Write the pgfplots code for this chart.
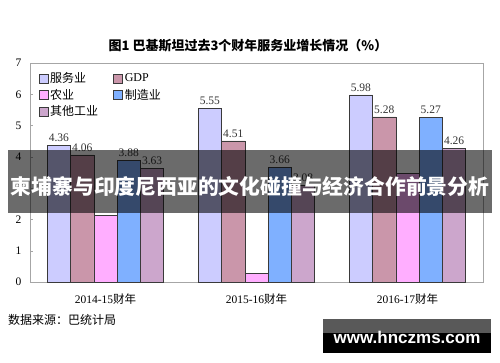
\documentclass[border=0pt]{standalone}
\usepackage{fontspec}
\setmainfont{Liberation Serif}
\newfontfamily\cjk{Noto Sans CJK SC}
\newfontfamily\wsans{Liberation Sans}
\usepackage{pgfplots}
\pgfplotsset{compat=1.18}
\definecolor{cServ}{HTML}{CCCCFF}
\definecolor{cGDP}{HTML}{CA96AA}
\definecolor{cAgr}{HTML}{FFAEFF}
\definecolor{cMan}{HTML}{7FB0FF}
\definecolor{cOth}{HTML}{CCA6CC}
\definecolor{cEdge}{HTML}{3A3A3A}
\begin{document}
\begin{tikzpicture}
\begin{axis}[
  at={(30pt,80pt)}, anchor=south west,
  width=453pt, height=219pt, scale only axis,
  xmin=-0.5, xmax=2.5, ymin=0, ymax=7,
  ytick={0,1,2,3,4,5,6,7},
  xtick={0,1,2},
  xticklabels={2014-15{\cjk 财年},2015-16{\cjk 财年},2016-17{\cjk 财年}},
  major x tick style={draw=none},
  extra x ticks={0.5,1.5}, extra x tick labels={},
  extra x tick style={major tick length=4pt, tick style={draw=gray!40}},
  xtick pos=bottom, ytick pos=left, tick align=inside,
  major tick length=3pt,
  tick style={draw=gray!70},
  axis line style={draw=gray!70},
  tick label style={font=\fontsize{11.5}{11.5}\selectfont},
  xticklabel style={yshift=-5pt},
  yticklabel style={xshift=-5pt},
  /pgf/number format/assume math mode=true,
  ybar=0pt, bar width=23.3pt,
  every axis plot/.append style={draw=cEdge, line width=0.6pt},
  nodes near coords style={font=\fontsize{11.5}{11.5}\selectfont, text=black!80,
     /pgf/number format/fixed, /pgf/number format/fixed zerofill, /pgf/number format/precision=2},
  legend columns=2,
  legend cell align=left,
  legend style={at={(0.012,0.975)}, anchor=north west, draw=none, fill=none,
     font=\cjk\fontsize{12}{12}\selectfont, row sep=1pt,
     /tikz/every even column/.append style={column sep=13pt}},
  legend image code/.code={\draw[#1,draw=cEdge,line width=0.6pt] (0pt,-4.5pt) rectangle (9pt,4.5pt);},
]
\addplot[fill=cServ, nodes near coords] coordinates {(0,4.36) (1,5.55) (2,5.98)};
\addlegendentry{服务业}
\addplot[fill=cGDP, nodes near coords] coordinates {(0,4.06) (1,4.51) (2,5.28)};
\addlegendentry{\rmfamily GDP}
\addplot[fill=cAgr] coordinates {(0,2.13) (1,0.27) (2,3.46)};
\addlegendentry{农业}
\addplot[fill=cMan, nodes near coords] coordinates {(0,3.88) (1,3.66) (2,5.27)};
\addlegendentry{制造业}
\addplot[fill=cOth, nodes near coords] coordinates {(0,3.63) (1,3.08) (2,4.26)};
\addlegendentry{其他工业}
\end{axis}
% title
\node at (248pt,316pt) {\cjk\bfseries\fontsize{13}{13}\selectfont 图1\ 巴基斯坦过去3个财年服务业增长情况（\%）};
% source
\node[anchor=west, inner sep=0pt] at (8pt,42pt) {\cjk\fontsize{12}{12}\selectfont 数据来源：巴统计局};
% banner overlay
\fill[black, opacity=0.58] (8pt,149pt) rectangle (492pt,212pt);
\node[text=white] at (250pt,176pt) {\cjk\bfseries\fontsize{20.8}{20.8}\selectfont 柬埔寨与印度尼西亚的文化碰撞与经济合作前景分析};
% watermark
\fill[black!65] (323pt,29pt) rectangle (491pt,43pt);
\fill[black] (323pt,9pt) rectangle (491pt,29pt);
\node[text=white] at (407pt,25pt) {\wsans\bfseries\fontsize{17}{17}\selectfont www.hnczms.com};
\pgfresetboundingbox
\useasboundingbox (0pt,0pt) rectangle (500pt,362pt);
\end{tikzpicture}
\end{document}
